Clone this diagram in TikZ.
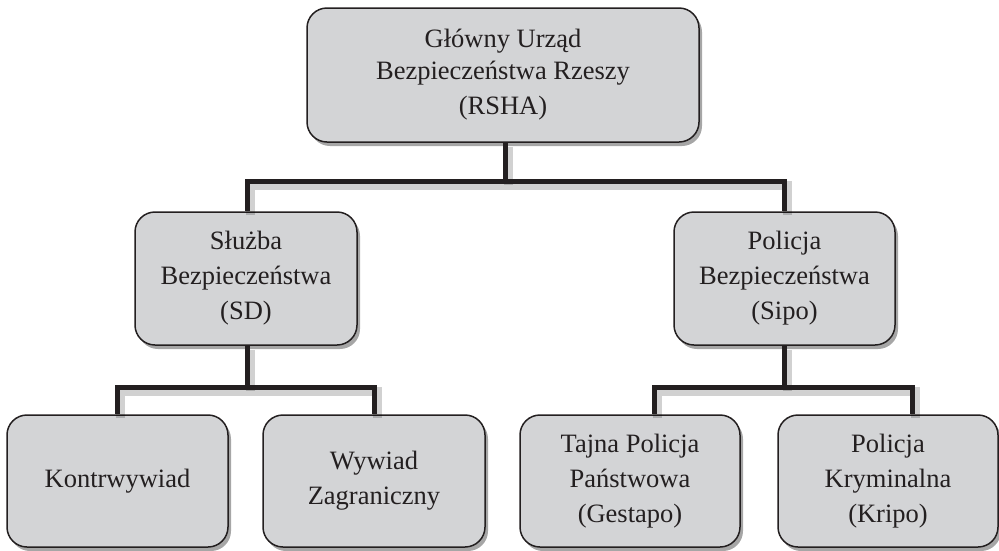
\documentclass[tikz,border=0pt]{standalone}
\usepackage{fontspec}
\setmainfont{Liberation Serif}
\usetikzlibrary{shadows,calc}
\definecolor{boxgray}{HTML}{D3D4D6}
\definecolor{inkdark}{HTML}{231F20}
\begin{document}
\begin{tikzpicture}[x=1pt,y=-1pt,
  orgbox/.style={draw=inkdark, fill=boxgray, line width=1.5pt, rounded corners=20pt,
    inner sep=0pt, align=center, text=inkdark,
    font=\fontsize{26.5}{35}\selectfont,
    drop shadow={shadow xshift=3pt, shadow yshift=-4pt, fill=black, opacity=0.35}},
  conn/.style={draw=inkdark, line width=5pt,
    preaction={draw=black, opacity=0.18, line width=9pt,
      transform canvas={shift={(3pt,-4pt)}}}}]
\useasboundingbox (0,0) rectangle (999,550);
\coordinate (j0) at (505,181);
\coordinate (j1) at (247,387);
\coordinate (j2) at (784,387);
\node[orgbox, minimum width=392pt, minimum height=134pt] (top) at (503,75)
  {\raisebox{-3pt}{Główny Urząd}\\Bezpieczeństwa Rzeszy\\(RSHA)};
\node[orgbox, minimum width=222pt, minimum height=133pt] (sd) at (246,278.5)
  {Służba\\Bezpieczeństwa\\(SD)};
\node[orgbox, minimum width=221pt, minimum height=133pt] (sipo) at (784.5,278.5)
  {Policja\\Bezpieczeństwa\\(Sipo)};
\node[orgbox, minimum width=221pt, minimum height=132pt] (kontr) at (117.5,481)
  {\raisebox{-6pt}{Kontrwywiad}};
\node[orgbox, minimum width=222pt, minimum height=132pt] (wyw) at (374,481)
  {Wywiad\\Zagraniczny};
\node[orgbox, minimum width=220pt, minimum height=132pt] (gest) at (630,481)
  {Tajna Policja\\Państwowa\\(Gestapo)};
\node[orgbox, minimum width=220pt, minimum height=132pt] (krip) at (888,481)
  {Policja\\Kryminalna\\(Kripo)};
\path[conn] (top.south -| j0) -- (j0);
\path[conn] (sd.north -| j1) |- (j0) -| (sipo.north -| j2);
\path[conn] (sd.south -| j1) -- (j1);
\path[conn] (kontr.north) |- (j1) -| (wyw.north);
\path[conn] (sipo.south -| j2) -- (j2);
\path[conn] ($(gest.north)+(24,0)$) |- (j2) -| ($(krip.north)+(24,0)$);
\end{tikzpicture}
\end{document}
